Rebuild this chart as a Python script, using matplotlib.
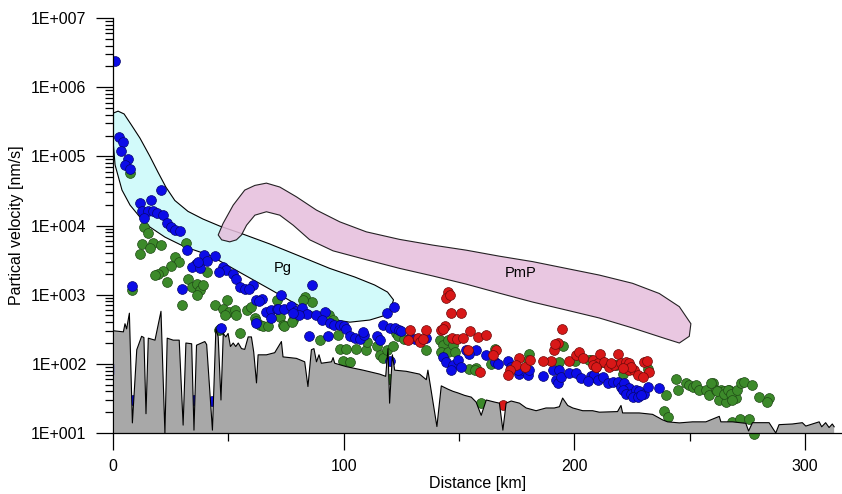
import numpy as np
import matplotlib
matplotlib.use("Agg")
import matplotlib.pyplot as plt
from matplotlib.ticker import FuncFormatter, FixedLocator, NullFormatter

plt.rcParams['font.family'] = ['Liberation Sans', 'DejaVu Sans']

# ---- scatter data: distance [km], particle velocity [nm/s] ----
blue_x = [0.9, 2.7, 4.5, 3.6, 6.5, 5.2, 7.4, 20.6, 11.7, 16.3, 12.4, 15.3, 17.2, 18.9, 21.5,
          13.6, 23.5, 25.1, 27.0, 29.0, 32.2, 39.5, 44.2, 40.8, 35.9, 34.1, 37.7, 36.9, 47.8,
          48.9, 46.0, 51.8, 53.2, 55.0, 57.1, 60.5, 59.0, 8.1, 29.7, 61.9, 64.8, 63.2, 73.0,
          66.5, 68.7, 71.0, 71.6, 74.0, 68.4, 62.2, 46.8, 0.4, 8.5, 35.0, 43.0,
          86.3, 77.0, 79.5, 82.0, 84.0, 80.5, 78.0, 88.2, 91.8, 90.8, 94.0, 96.0, 98.2, 100.3,
          101.0, 85.0, 93.2, 102.6, 105.0, 107.0, 109.0, 108.5, 114.4, 115.6, 118.8, 121.6,
          117.0, 120.0, 122.2, 123.8, 125.0, 128.6, 130.8, 133.5, 135.8, 120.0,
          143.0, 144.4, 147.3, 149.5, 151.0, 146.6, 153.1, 157.4, 154.5, 161.8, 165.4, 166.8,
          171.1, 172.6, 176.2, 177.6, 179.8, 180.5, 175.5, 186.3, 190.6, 192.1, 193.5, 192.8,
          194.2, 197.8, 200.7, 202.9, 207.2, 209.4, 208.7, 210.1, 212.3, 214.4, 216.6, 218.7,
          220.2, 221.6, 223.8, 220.9, 222.4, 224.5, 226.7, 228.1, 230.3, 231.7, 225.2, 227.4,
          228.8, 236.5, 206.0]
blue_v = [2.4e6, 1.9e5, 1.6e5, 1.2e5, 9.0e4, 7.4e4, 6.5e4, 3.3e4, 2.1e4, 2.3e4, 1.6e4, 1.6e4,
          1.6e4, 1.5e4, 1.4e4, 1.3e4, 1.1e4, 9.5e3, 8.7e3, 8.3e3, 4.4e3, 3.7e3, 3.6e3, 3.1e3,
          2.8e3, 2.5e3, 2.4e3, 3.0e3, 2.5e3, 2.3e3, 2.1e3, 2.0e3, 1.7e3, 1.3e3, 1.2e3, 1.4e3,
          1.2e3, 1.35e3, 1.2e3, 8.4e2, 8.7e2, 8.0e2, 1.0e3, 5.6e2, 6.0e2, 6.2e2, 6.3e2, 6.2e2,
          4.6e2, 3.9e2, 3.3e2, 83, 30, 30, 29,
          1.4e3, 6.8e2, 5.9e2, 6.5e2, 5.3e2, 5.0e2, 5.5e2, 5.0e2, 5.6e2, 4.3e2, 3.9e2, 3.6e2,
          3.7e2, 3.5e2, 3.2e2, 2.5e2, 2.5e2, 2.5e2, 2.4e2, 2.3e2, 2.6e2, 2.9e2, 2.5e2, 2.2e2,
          5.5e2, 6.7e2, 3.6e2, 3.3e2, 3.3e2, 3.1e2, 3.0e2, 2.4e2, 2.3e2, 2.2e2, 2.4e2, 1.1e2,
          126, 107, 96, 113, 89, 81, 158, 158, 141, 134, 107, 100,
          110, 91, 71, 81, 69, 81, 81, 66, 81, 58, 81, 52,
          65, 74, 73, 62, 66, 63, 69, 59, 64, 52, 55, 55,
          47, 52, 45, 42, 37, 37, 42, 40, 37, 47, 33, 33,
          35, 44, 57]

green_x = [13.6, 15.3, 12.7, 17.2, 16.0, 20.8, 11.7, 31.6, 26.8, 28.7, 25.1, 21.8, 19.6, 18.2,
           23.5, 32.3, 34.1, 36.5, 37.7, 38.8, 36.2, 40.6, 29.7, 8.1, 7.4,
           44.2, 49.2, 47.7, 50.3, 52.8, 53.5, 48.5, 57.9, 60.0, 61.5, 63.6, 65.1, 67.2, 70.9,
           72.3, 73.7, 62.2, 55.0, 46.0, 46.3,
           83.1, 86.4, 82.4, 74.0, 78.0, 77.4, 93.6, 95.4, 97.5, 89.9, 98.3, 101.2, 99.7, 102.6,
           105.2, 109.5, 110.1, 114.4, 115.6, 117.0, 118.7, 121.3, 122.8, 123.5, 126.0, 135.8,
           141.6, 143.0, 145.2, 142.0, 145.0, 147.4, 148.1, 154.5, 157.4, 156.7, 165.4, 164.0,
           180.5, 179.8, 193.5, 195.0, 200.4, 207.2, 159.6, 206.5, 208.7, 220.9, 218.0, 212.3,
           231.7, 119.5, 84.5,
           239.7, 239.0, 240.4, 244.7, 244.0, 248.3, 249.8, 251.2, 252.7, 254.1, 257.0, 258.4,
           259.9, 261.3, 263.5, 264.9, 267.1, 262.8, 265.7, 270.0, 259.2, 262.0, 265.0, 266.4,
           267.8, 270.7, 272.2, 273.6, 277.2, 268.5, 280.1, 284.4, 283.7, 268.2, 271.7, 275.5,
           278.0]
green_v = [9.5e3, 7.8e3, 5.4e3, 5.5e3, 4.7e3, 5.2e3, 3.9e3, 5.5e3, 3.5e3, 3.0e3, 2.6e3, 2.2e3,
           2.0e3, 1.9e3, 1.5e3, 1.66e3, 1.28e3, 1.45e3, 1.17e3, 1.38e3, 1.0e3, 2.1e3, 7.1e2,
           1.17e3, 5.8e4,
           7.1e2, 8.4e2, 6.3e2, 5.6e2, 6.0e2, 5.1e2, 5.1e2, 6.0e2, 6.7e2, 4.6e2, 3.6e2, 3.5e2,
           3.5e2, 8.4e2, 4.8e2, 3.6e2, 4.2e2, 2.8e2, 3.1e2, 3.2e2,
           9.3e2, 7.9e2, 8.4e2, 3.5e2, 4.3e2, 4.0e2, 5.0e2, 4.3e2, 2.6e2, 2.2e2, 1.66e2, 1.66e2,
           1.1e2, 1.07e2, 1.62e2, 1.58e2, 2.1e2, 1.8e2, 1.34e2, 1.2e2, 1.58e2, 1.8e2, 2.8e2,
           2.5e2, 2.3e2, 1.6e2, 2.2e2, 1.86e2, 2.2e2, 1.5e2, 1.5e2, 1.86e2, 1.5e2, 85, 87, 81,
           165, 100, 140, 113, 105, 180, 110, 113, 27, 113, 105, 72, 95, 105,
           85, 60, 40,
           35, 21, 17, 42, 60, 52, 49, 47, 49, 42, 42, 35,
           52, 42, 42, 40, 42, 30, 28, 32, 52, 40, 37, 42,
           37, 42, 52, 55, 49, 30, 33, 32, 28, 14.6, 16.2, 15.8,
           9.8]

red_x = [145.0, 144.4, 145.9, 146.6, 151.0, 143.7, 142.3, 147.0, 149.3, 151.6, 154.8, 158.1,
         161.8, 153.8, 159.2, 166.0, 164.6, 128.6, 127.8, 132.2, 132.9, 135.8, 134.3, 143.0,
         176.2, 174.8, 171.9, 171.1, 178.4, 180.8, 194.6, 192.8, 191.3, 189.9, 186.3, 191.6,
         197.8, 200.7, 201.8, 203.6, 207.9, 209.4, 210.1, 211.3, 213.0, 215.2, 217.3, 218.7,
         220.2, 222.4, 223.8, 223.5, 226.0, 227.4, 230.3, 232.2, 229.6, 231.3, 224.5, 220.9,
         215.9, 169.0, 207.9, 209.4]
red_v = [1.1e3, 8.9e2, 1.0e3, 5.4e2, 5.5e2, 3.5e2, 3.1e2, 2.35e2, 2.3e2, 2.35e2, 3.0e2, 2.45e2,
         2.6e2, 1.6e2, 76, 1.6e2, 1.35e2, 3.1e2, 2.2e2, 2.4e2, 2.1e2, 3.1e2, 2.3e2, 3.2e2,
         123, 96, 81, 69, 89, 113, 320, 200, 160, 110, 110, 195,
         110, 134, 149, 123, 115, 91, 104, 141, 107, 91, 95, 141,
         102, 107, 104, 81, 81, 69, 107, 77, 65, 110, 91, 86,
         102, 25, 95, 89]

# ---- noise level (grey area) ----
noise_x = [0.5, 4.5, 5.2, 5.9, 7.1, 8.4, 10.3, 12.4, 13.4, 14.3, 15.3, 18.2, 20.8, 22.5, 23.5,
           26.1, 28.7, 30.4, 31.6, 34.1, 35.1, 36.2, 39.8, 40.6, 43.1, 44.6, 45.6, 46.8, 47.8,
           48.9, 49.9, 50.9, 52.1, 53.2, 54.3, 55.7, 57.1, 58.6, 60.0, 61.0, 62.2, 62.9, 66.5,
           70.1, 73.0, 73.7, 79.5, 83.1, 84.5, 86.0, 87.1, 88.2, 89.3, 90.3, 94.7, 95.4, 96.1,
           101.2, 108.4, 115.6, 118.2, 119.2, 119.9, 121.1, 122.1, 127.1, 132.9, 135.8, 136.5,
           140.4, 142.3, 145.2, 147.4, 149.5, 152.4, 155.3, 157.4, 159.6, 161.8, 165.4, 167.5,
           169.0, 170.4, 172.6, 176.2, 179.1, 183.4, 187.7, 191.3, 193.5, 194.9, 197.1, 199.3,
           203.6, 207.9, 210.8, 218.7, 220.2, 220.9, 228.1, 233.9, 238.2, 240.4, 245.5, 251.2,
           257.0, 262.8, 263.5, 268.5, 274.3, 275.5, 277.2, 284.4, 287.3, 288.7, 294.5, 298.8,
           300.3, 306.1, 307.2, 308.9, 310.4, 311.8, 312.6]
noise_v = [300, 290, 380, 320, 540, 14, 160, 250, 240, 19, 235, 220, 575, 10, 235,
           220, 220, 13, 200, 195, 11, 186, 210, 190, 11, 320, 245, 30, 275,
           245, 275, 178, 200, 178, 200, 166, 162, 245, 245, 148, 53, 135, 135,
           145, 210, 126, 120, 107, 47, 160, 166, 107, 135, 102, 107, 123, 102,
           91, 81, 71, 66, 166, 27, 135, 81, 78, 71, 59, 81,
           12.4, 48, 43, 40, 38, 35, 33, 28, 18, 30, 28, 27,
           11, 27, 29, 27, 23, 21, 23, 23, 24, 32, 25, 23,
           21, 21, 20, 20.4, 25, 19.5, 19.5, 18.6, 15.5, 14.5, 14, 14.5,
           14.5, 17.4, 14.5, 14.5, 13.8, 10.7, 14.1, 14.1, 10, 13.2, 13.5, 14.1,
           12.6, 14.5, 12.3, 14.1, 12.0, 13.5, 12.3]

# ---- phase outlines ----
pg_x = [0.0, 2.2, 4.8, 7.8, 11.7, 16.0, 19.5, 22.9, 26.8, 32.5, 39.0, 46.3, 55.0, 68.0, 81.0,
        93.9, 104.8, 113.4, 119.0, 121.6, 120.3, 116.9, 111.3, 102.6, 91.8, 81.0, 68.0, 55.0,
        42.0, 31.2, 22.5, 16.0, 11.7, 7.4, 3.9, 0.9, 0.0]
pg_v = [4.2e5, 4.5e5, 4.1e5, 2.9e5, 1.83e5, 1.0e5, 5.9e4, 3.6e4, 2.3e4, 1.6e4, 1.24e4, 9.8e3,
        7.8e3, 5.4e3, 3.6e3, 2.4e3, 1.8e3, 1.38e3, 1.09e3, 8.4e2, 6.2e2, 4.9e2, 4.3e2, 4.0e2,
        4.6e2, 6.8e2, 1.2e3, 2.1e3, 3.7e3, 4.9e3, 6.8e3, 9.5e3, 1.32e4, 1.97e4, 3.25e4,
        7.5e4, 1.7e5]

pmp_x = [45.6, 47.7, 52.1, 57.1, 61.5, 66.5, 72.3, 79.5, 88.2, 98.3, 109.8, 124.2, 138.7,
         153.1, 167.5, 182.0, 196.4, 210.8, 225.2, 236.8, 245.5, 250.5, 249.8, 245.5, 239.7,
         225.2, 210.8, 196.4, 182.0, 167.5, 153.1, 138.7, 124.2, 109.8, 95.4, 85.3, 78.1,
         72.3, 66.5, 61.5, 57.9, 55.7, 53.5, 50.6, 47.1]
pmp_v = [7.3e3, 1.07e4, 1.97e4, 3.25e4, 3.8e4, 4.1e4, 3.6e4, 2.6e4, 1.67e4, 1.13e4, 8.1e3,
         6.3e3, 5.2e3, 4.4e3, 3.6e3, 3.0e3, 2.4e3, 1.92e3, 1.46e3, 1.04e3, 6.7e2, 3.8e2,
         2.5e2, 2.0e2, 2.3e2, 3.3e2, 4.6e2, 6.0e2, 7.8e2, 1.05e3, 1.42e3, 1.86e3, 2.4e3,
         3.2e3, 4.3e3, 6.2e3, 1.01e4, 1.41e4, 1.58e4, 1.41e4, 1.01e4, 7.3e3, 6.2e3, 5.8e3,
         6.2e3]

y_major = [1e1, 1e2, 1e3, 1e4, 1e5, 1e6, 1e7]
x_major = [0, 100, 200, 300]
x_minor = [50, 150, 250]

fig = plt.figure(figsize=(8.42, 4.94), dpi=100)
ax = fig.add_axes([113 / 842, 61 / 494, 729 / 842, 415 / 494])
ax.set_yscale('log')

ax.fill(pg_x, pg_v, facecolor='#d2fafa', edgecolor='black', linewidth=0.8, zorder=1)
ax.fill(pmp_x, pmp_v, facecolor='#e6bedc', edgecolor='black', linewidth=0.8, alpha=0.85, zorder=2)
ax.text(73.6, 2.4e3, 'Pg', fontsize=10.5, ha='center', va='center', zorder=3)
ax.text(176.6, 2.05e3, 'PmP', fontsize=10.5, ha='center', va='center', zorder=3)

ax.scatter(green_x, green_v, s=50, c='#3c8a2a', edgecolors='#1f4a16', linewidths=0.5, zorder=4,
           clip_on=False)
ax.scatter(blue_x, blue_v, s=50, c='#0c0ce8', edgecolors='#06066e', linewidths=0.5, zorder=5)
ax.scatter(red_x, red_v, s=50, c='#d81818', edgecolors='#6e0a0a', linewidths=0.5, zorder=6)

ax.fill_between(noise_x, 1, noise_v, facecolor='#a8a8a8', edgecolor='none', zorder=7)
ax.plot(noise_x, noise_v, color='black', linewidth=0.8, zorder=8)

ax.set_xlim(0, 316)
ax.set_ylim(10, 1e7)

for s in ['top', 'right']:
    ax.spines[s].set_visible(False)
for s in ['left', 'bottom']:
    ax.spines[s].set_linewidth(0.9)
    ax.spines[s].set_zorder(9)

y_minor = [m * d for d in y_major[:-1] for m in range(2, 10)]
ax.yaxis.set_major_locator(FixedLocator(y_major))
ax.yaxis.set_minor_locator(FixedLocator(y_minor))
ax.yaxis.set_major_formatter(FuncFormatter(lambda v, p: '1E+%03d' % int(round(np.log10(v)))))
ax.yaxis.set_minor_formatter(NullFormatter())
ax.xaxis.set_major_locator(FixedLocator(x_major))
ax.xaxis.set_minor_locator(FixedLocator(x_minor))
ax.xaxis.set_minor_formatter(NullFormatter())

ax.tick_params(axis='both', which='major', length=12, width=0.9, labelsize=11.5, pad=7)
ax.tick_params(axis='both', which='minor', length=6, width=0.9)

ax.set_xlabel('Distance [km]', fontsize=11.5, labelpad=1)
ax.set_ylabel('Partical velocity [nm/s]', fontsize=11.5, labelpad=5)

fig.savefig('out.png', dpi=100)
